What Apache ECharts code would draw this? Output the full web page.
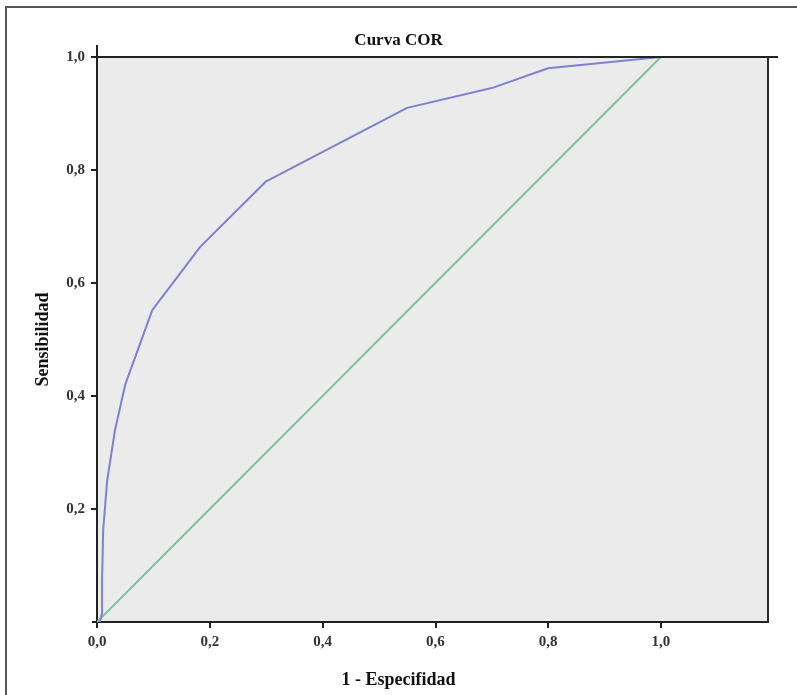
<!DOCTYPE html>
<html>
<head>
<meta charset="utf-8">
<script src="https://cdn.jsdelivr.net/npm/echarts@6/dist/echarts.min.js"></script>
<style>html,body{margin:0;padding:0;background:#fff}#c{width:797px;height:695px}</style>
</head>
<body>
<div id="c"></div>
<script>
const rocCurve = [[0.005,0.0],[0.009,0.016],[0.009,0.074],[0.011,0.163],[0.018,0.25],[0.032,0.34],[0.05,0.42],[0.098,0.552],[0.183,0.664],[0.3,0.78],[0.55,0.91],[0.7,0.945],[0.8,0.98],[1.0,1.0]];
const refLine = [[0,0],[1,1]];
const xTicks = [0,0.2,0.4,0.6,0.8,1.0];
const yTicks = [0.2,0.4,0.6,0.8,1.0];
const fmt = v => Number(v).toFixed(1).replace('.', ',');
const serif = '"Liberation Serif", "DejaVu Serif", serif';

const chart = echarts.init(document.getElementById('c'));
chart.setOption({
  animation: false,
  backgroundColor: '#ffffff',
  title: [
    {text: 'Curva COR', left: 'center', top: 27, textStyle: {fontFamily: serif, fontWeight: 'bold', fontSize: 17, color: '#111'}},
    {text: '1 - Especifidad', left: 'center', top: 666, textStyle: {fontFamily: serif, fontWeight: 'bold', fontSize: 18, color: '#111'}}
  ],
  grid: {left: 97, top: 57, right: 29, bottom: 73, show: true, backgroundColor: '#ebebeb', borderColor: '#2a2a2a', borderWidth: 2},
  xAxis: {
    type: 'value', min: 0, max: 1.19,
    axisLine: {show: true, lineStyle: {color: '#222', width: 2}},
    axisTick: {show: true, length: 6, lineStyle: {color: '#222', width: 2}, customValues: xTicks},
    axisLabel: {customValues: xTicks, formatter: fmt, margin: 13, fontFamily: serif, fontWeight: 'bold', fontSize: 15, color: '#333'},
    splitLine: {show: false}
  },
  yAxis: {
    type: 'value', min: 0, max: 1,
    name: 'Sensibilidad', nameLocation: 'middle', nameGap: 45,
    nameTextStyle: {fontFamily: serif, fontWeight: 'bold', fontSize: 18, color: '#111'},
    axisLine: {show: true, lineStyle: {color: '#222', width: 2}},
    axisTick: {show: true, length: 6, lineStyle: {color: '#222', width: 2}, customValues: yTicks},
    axisLabel: {customValues: yTicks, formatter: fmt, margin: 12, fontFamily: serif, fontWeight: 'bold', fontSize: 15, color: '#333'},
    splitLine: {show: false}
  },
  series: [
    {type: 'line', data: refLine, showSymbol: false, lineStyle: {color: '#7cc4a2', width: 2}, z: 2},
    {type: 'line', data: rocCurve, showSymbol: false, lineStyle: {color: '#7f80cf', width: 2}, z: 3}
  ]
});

const p00 = chart.convertToPixel({gridIndex: 0}, [0, 0]);
const p11 = chart.convertToPixel({gridIndex: 0}, [0, 1]);
const pR = chart.convertToPixel({gridIndex: 0}, [1.19, 1]);
chart.setOption({
  graphic: [
    {type: 'rect', shape: {x: 6, y: 7, width: 820, height: 720}, style: {fill: 'none', stroke: '#555', lineWidth: 2}, silent: true},
    {type: 'line', shape: {x1: p11[0], y1: p11[1], x2: pR[0] + 10, y2: pR[1]}, style: {stroke: '#222', lineWidth: 2}, z: 10},
    {type: 'line', shape: {x1: p11[0], y1: p11[1], x2: p11[0], y2: p11[1] - 12}, style: {stroke: '#222', lineWidth: 2}, z: 10},
    {type: 'line', shape: {x1: p00[0] - 5, y1: p00[1], x2: p00[0], y2: p00[1]}, style: {stroke: '#222', lineWidth: 2}, z: 10}
  ]
});
</script>
</body>
</html>
